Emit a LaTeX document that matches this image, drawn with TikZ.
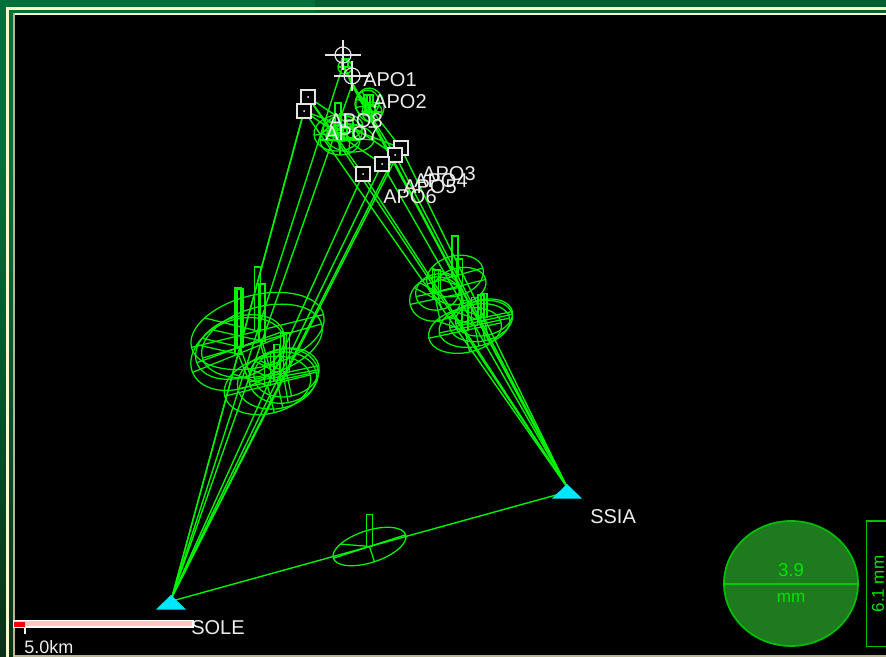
\documentclass[tikz,border=0pt]{standalone}
\usepackage{fontspec}
\setmainfont{Liberation Sans}
\usetikzlibrary{calc}
\definecolor{ray}{HTML}{00F400}
\definecolor{frameg}{HTML}{00703A}
\definecolor{framed}{HTML}{005F30}
\definecolor{framek}{HTML}{0A3018}
\definecolor{cream}{HTML}{FBF8C8}
\definecolor{dimcream}{HTML}{B8B690}
\definecolor{lab}{HTML}{EDEDED}
\definecolor{discf}{HTML}{1F7A1F}
\definecolor{discl}{HTML}{00C000}
\definecolor{stn}{HTML}{00E8FF}
\definecolor{barpink}{HTML}{FFC6C6}
\tikzset{
  rayline/.style={draw=ray,line width=1.05pt},
  ell/.style={draw=ray,line width=0.95pt},
  target/.style={draw=white!90!black,fill=black,line width=1.5pt,minimum size=10.5pt,inner sep=0pt,shape=rectangle},
  crossh/.style={draw=white!90!black,line width=0.9pt},
  station/.style={fill=stn},
  apo/.style={text=lab,anchor=west,inner sep=0pt,font=\fontsize{15}{16}\selectfont},
  small/.style={text=lab,inner sep=0pt,font=\fontsize{13.5}{15}\selectfont},
  disct/.style={text=green!90!black,inner sep=0pt},
}
% centre point, rx, ry, rotation, bar height
\newcommand{\errell}[5]{%
  \begin{scope}[shift={#1}]
    \begin{scope}[rotate=#4]
      \draw[ell] (0,0) ellipse [x radius=#2,y radius=#3];
      \draw[ell] (-#2,0) -- (#2,0);
      \draw[ell] (0,0) -- (0,#3);
      \draw[ell] (0,0) -- ({-0.7*#2},{-0.7*#3});
    \end{scope}
    \draw[ell] (-3,0) rectangle (3,-#5);
  \end{scope}}
\begin{document}
\begin{tikzpicture}[x=0.75pt,y=-0.75pt]
\useasboundingbox (0,0) rectangle (886,657);
% frame
\fill[frameg] (0,0) rectangle (886,657);
\fill[framed] (315,0) rectangle (886,12);
\shade[top color=frameg,bottom color=framek] (0,160) rectangle (15,657);
\fill[cream] (6,7) rectangle (886,10);
\fill[cream] (6,7) rectangle (9,657);
\fill[cream] (13,12.5) rectangle (886,15);
\fill[dimcream] (13,12.5) rectangle (14.5,657);
\fill[dimcream] (13,655) rectangle (886,657);
\fill[black] (14.5,15) rectangle (886,655);

\coordinate (SOLE) at (172,597);
\coordinate (SSIA) at (567,487);
\coordinate (SOLEb) at (172,601);
\coordinate (SSIAb) at (567,492);
\coordinate (t1) at (343,65);
\coordinate (t2) at (352,85);
\coordinate (t3) at (401,148);
\coordinate (t4) at (395,155);
\coordinate (t5) at (382,164);
\coordinate (t6) at (363,174);
\coordinate (t7) at (304,111);
\coordinate (t8) at (308,97);

% rays
\foreach \t in {t1,t2,t3,t4,t5,t6,t7,t8}{
  \draw[rayline] (SOLE) -- (\t);
  \draw[rayline] (SSIA) -- (\t);
}
\draw[rayline] (SOLEb) -- (SSIAb);
% target to target lines
\draw[rayline] (t7) -- (t3);
\draw[rayline] (t8) -- (t4);
\draw[rayline] (t7) -- (t5);
\draw[rayline] (t8) -- (t6);
\draw[rayline] (t1) -- (t2);
\draw[rayline] (t2) -- (t3);
\draw[rayline] (t2) -- (t4);

% error ellipses, SOLE side
\errell{($(SOLE)!.5!(t1)$)}{68}{36}{14}{64}
\errell{($(SOLE)!.5!(t2)$)}{62}{34}{16}{57}
\errell{($(SOLE)!.5!(t7)$)}{49}{34}{22}{66}
\errell{($(SOLE)!.5!(t8)$)}{46}{30}{20}{58}
\errell{($(SOLE)!.5!(t3)$)}{33}{24}{12}{40}
\errell{($(SOLE)!.5!(t4)$)}{35}{27}{10}{43}
\errell{($(SOLE)!.5!(t5)$)}{40}{28}{12}{36}
\errell{($(SOLE)!.5!(t6)$)}{44}{28}{14}{32}
% error ellipses, SSIA side
\errell{($(SSIA)!.5!(t1)$)}{29}{20}{16}{40}
\errell{($(SSIA)!.5!(t2)$)}{27}{18}{14}{27}
\errell{($(SSIA)!.5!(t7)$)}{26}{22}{12}{29}
\errell{($(SSIA)!.5!(t8)$)}{22}{18}{12}{22}
\errell{($(SSIA)!.5!(t3)$)}{29}{18}{12}{24}
\errell{($(SSIA)!.5!(t4)$)}{32}{20}{12}{26}
\errell{($(SSIA)!.5!(t5)$)}{36}{21}{12}{28}
\errell{($(SSIA)!.5!(t6)$)}{37}{22}{12}{30}
% base line
\errell{($(SOLEb)!.5!(SSIAb)$)}{38}{16}{18}{32}
% top cluster
\errell{(338,133)}{24}{18}{5}{30}
\errell{(350,138)}{24}{14}{-5}{18}
\errell{(343,128)}{20}{13}{10}{14}
\errell{(340,140)}{20}{15}{0}{10}
\errell{(370,105)}{14}{17}{10}{10}
\errell{(367,103)}{12}{13}{-20}{8}
\errell{(372,112)}{10}{10}{0}{6}
\errell{(345,67)}{7}{7}{0}{8}

% target marks
\foreach \c/\x/\y in {ca/343/55,cb/352/76}{
  \coordinate (\c) at (\x,\y);
  \draw[crossh] (\c) circle (8);
  \draw[crossh] ($(\c)+(-18,0)$) -- ($(\c)+(18,0)$);
  \draw[crossh] ($(\c)+(0,-15)$) -- ($(\c)+(0,15)$);
}
\foreach \t in {t3,t4,t5,t6,t7,t8}{
  \node[target] (m\t) at (\t) {};
  \fill[white] (\t) circle (1);
}

% stations
\fill[station] (171,595) -- (186,609.5) -- (156,609.5) -- cycle;
\fill[station] (567,484) -- (582,498.5) -- (552,498.5) -- cycle;

% labels
\node[apo] (l1) at (363,80) {APO1};
\node[apo] (l2) at (373,102) {APO2};
\node[apo] (l8) at (329,121) {APO8};
\node[apo] (l7) at (325,134) {APO7};
\node[apo] (l3) at (422,174) {APO3};
\node[apo] (l4) at (414,181) {APO4};
\node[apo] (l5) at (403,187) {APO5};
\node[apo] (l6) at (383,197) {APO6};
\node[apo] (lsia) at (590,517) {SSIA};
\node[apo] (lsol) at (191,628) {SOLE};

% scale bar
\draw[white,fill=barpink,line width=1pt] (14,620.5) rectangle (193,627);
\fill[red] (14,621.5) rectangle (24.5,626.5);
\draw[white,line width=0.9pt] (25,627) -- (25,634);
\node[small,anchor=west] (lkm) at (24,647) {5.0km};

% disc
\draw[discl,fill=discf,line width=1.3pt] (791,583.5) ellipse [x radius=67,y radius=62.5];
\draw[discl!80!green,line width=1.3pt] (724,584) -- (858,584);
\node[disct,font=\fontsize{14}{16}\selectfont] (d1) at (791,570.5) {3.9};
\node[disct,font=\fontsize{12.8}{14}\selectfont] (d2) at (791,598) {mm};
\draw[discl,line width=1.3pt] (886,521) -- (866.5,521) -- (866.5,646.5) -- (886,646.5);
\node[disct,rotate=90,font=\fontsize{12.8}{14}\selectfont] (d3) at (878,584) {6.1 mm};
\end{tikzpicture}
\end{document}
